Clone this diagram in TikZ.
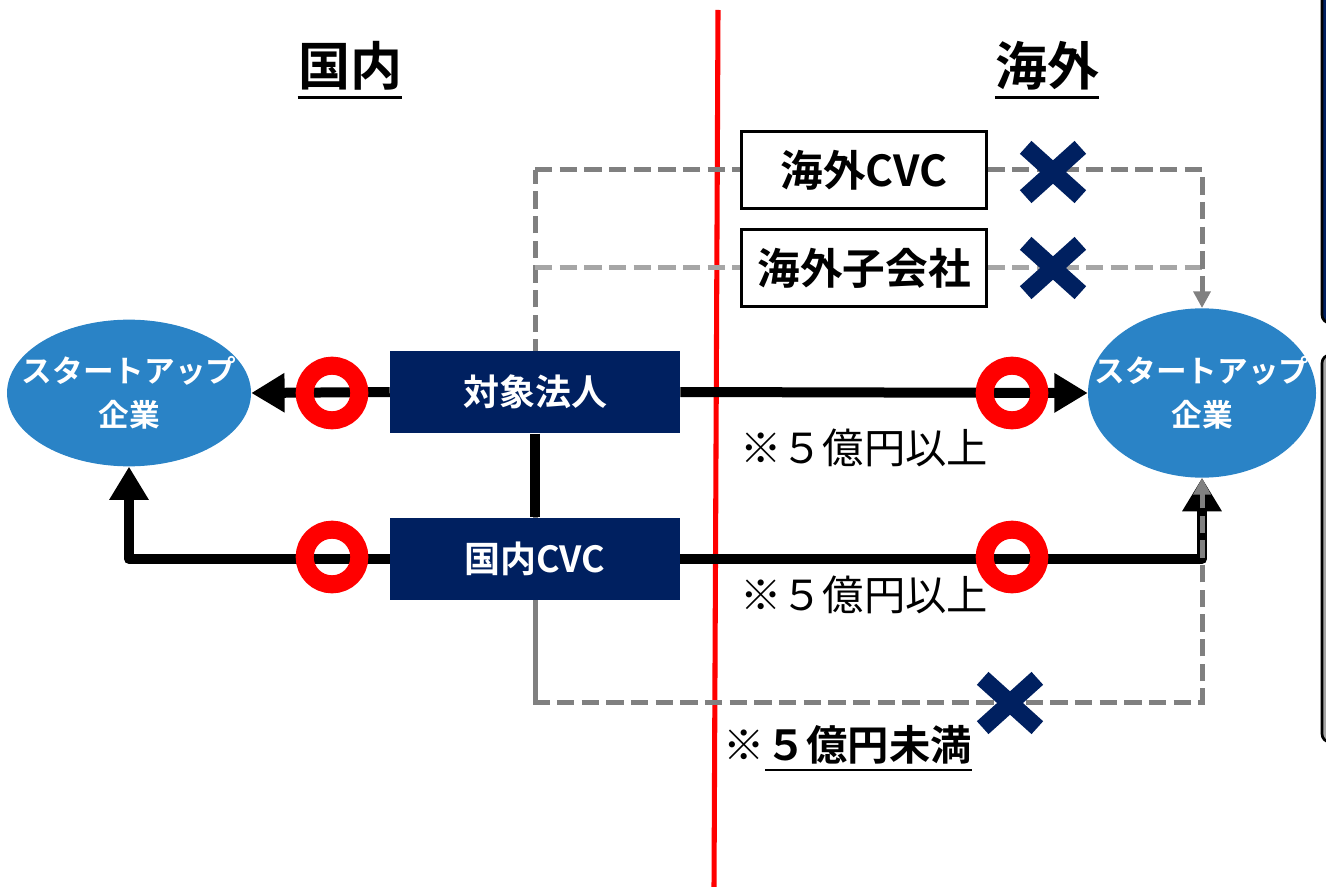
\documentclass[tikz,border=0pt]{standalone}
\usepackage{fontspec}
\setmainfont{Noto Sans CJK JP}[BoldFont={Noto Sans CJK JP Bold}]
\usetikzlibrary{arrows.meta,shapes.geometric,shapes.misc}
\definecolor{navy}{HTML}{002060}
\definecolor{sblue}{HTML}{2A83C6}
\definecolor{dgray}{HTML}{808080}
\definecolor{lgray}{HTML}{A6A6A6}
\begin{document}
\begin{tikzpicture}[x=0.75pt,y=-0.75pt,
  startup/.style={ellipse, fill=sblue, inner sep=0pt, text=white, align=center,
    font=\bfseries\fontsize{23}{33}\selectfont},
  navybox/.style={rectangle, fill=navy, text=white, minimum width=217.5pt, minimum height=62pt,
    font=\bfseries\fontsize{27}{30}\selectfont},
  whitebox/.style={rectangle, draw=black, line width=2.2pt, fill=white, minimum width=184pt, minimum height=58pt,
    font=\bfseries\fontsize{32}{34}\selectfont},
  heading/.style={inner sep=0pt, font=\bfseries\fontsize{39}{42}\selectfont},
  note/.style={inner sep=0pt, font=\fontsize{31}{34}\selectfont},
  blk/.style={draw=black, line width=7.5pt, line join=round, -{Triangle[length=25pt,width=28pt]}},
  dg/.style={draw=dgray, line width=3.75pt, dash pattern=on 13pt off 5.5pt},
  lg/.style={draw=lgray, line width=3.75pt, dash pattern=on 13pt off 5.5pt},
  gtip/.style={-{Triangle[length=12.5pt,width=12.5pt]}},
  ring/.style={circle, draw=red, line width=13.5pt, minimum size=41pt, inner sep=0pt},
  xmark/.style={cross out, draw=navy, line width=13pt, minimum width=28pt, minimum height=24pt, inner sep=0pt},
]
\useasboundingbox (0,0) rectangle (1326,887);
% partial panels at the right edge
\draw[black, line width=2pt, fill=navy, rounded corners=6pt] (1322,-20) rectangle (1420,323);
\draw[black, line width=2pt, fill=lgray, rounded corners=6pt] (1322,355) rectangle (1420,742);
% headings
\node[heading] (hL) at (350,66) {国内};
\node[heading] (hR) at (1047,66) {海外};
\draw[line width=2pt] ([yshift=-5pt]hL.south west) -- ([yshift=-5pt]hL.south east);
\draw[line width=2pt] ([yshift=-5pt]hR.south west) -- ([yshift=-5pt]hR.south east);
% red border line
\coordinate (rt) at (718,10);
\coordinate (rb) at (714,887);
\draw[red, line width=3.8pt] (rt) -- (rb);
% main nodes
\node[startup, minimum width=183pt, minimum height=110pt] (sL) at (129,393)
  {\makebox[0pt]{スタートアップ}\\\makebox[0pt]{企業}};
\node[startup, minimum width=171pt, minimum height=127pt] (sR) at (1202,393)
  {\makebox[0pt]{スタートアップ}\\\makebox[0pt]{企業}};
\node[navybox] (obj) at (535,392) {対象法人};
\node[navybox] (cvc) at (535,559) {国内CVC};
% gray dashed corners
\coordinate (g1) at (535,170);
\coordinate (g2) at (1202,170);
\coordinate (g3) at (535,268);
\coordinate (g4) at (1202,268);
\coordinate (g5) at (535,702);
\coordinate (g6) at (1202,702);
\draw[dg] (g5) -- (g1);
\draw[dg] (g1) -- (864,170);
\draw[lg] (g3) -- (864,268);
\draw[lg] (864,268) -- (g4);
\draw[dg, gtip] (864,170) -- (g2) -- (sR.north);
\node[whitebox] (ocvc) at (864,170) {海外CVC};
\node[whitebox] (osub) at (864,268) {海外子会社};
\node[navybox] at (obj) {対象法人};
\node[navybox] at (cvc) {国内CVC};
% black connectors
\coordinate (cL) at (129,559);
\coordinate (cR) at (1202,559);
\draw[black, line width=7.5pt] (obj.south) -- (cvc.north);
\draw[blk] (obj.west) -- (sL.east);
\draw[blk] (obj.east) -- (sR.west);
\draw[blk] (cvc.west) -- (cL) -- (sL.south);
\draw[blk] (cvc.east) -- (cR) -- (sR.south);
\draw[dg, gtip] (cvc.south) -- (g5) -- (g6) -- (sR.south);
% rings
\node[ring] (r1) at (332,393) {};
\node[ring] (r2) at (1012,393) {};
\node[ring] (r3) at (332,557) {};
\node[ring] (r4) at (1012,557) {};
% crosses
\node[xmark] (x1) at (1053,172) {};
\node[xmark] (x2) at (1053,268) {};
\node[xmark] (x3) at (1010,703) {};
% notes
\node[note] (n1) at (864,448) {※５億円以上};
\node[note] (n2) at (864,595) {※５億円以上};
\node[note, anchor=east] (n3a) at (765,745) {※};
\node[note, anchor=west, font=\bfseries\fontsize{31}{34}\selectfont] (n3b) at (765,745) {５億円未満};
\draw[line width=2pt] ([yshift=-4pt]n3b.south west) -- ([yshift=-4pt]n3b.south east);
\end{tikzpicture}
\end{document}
